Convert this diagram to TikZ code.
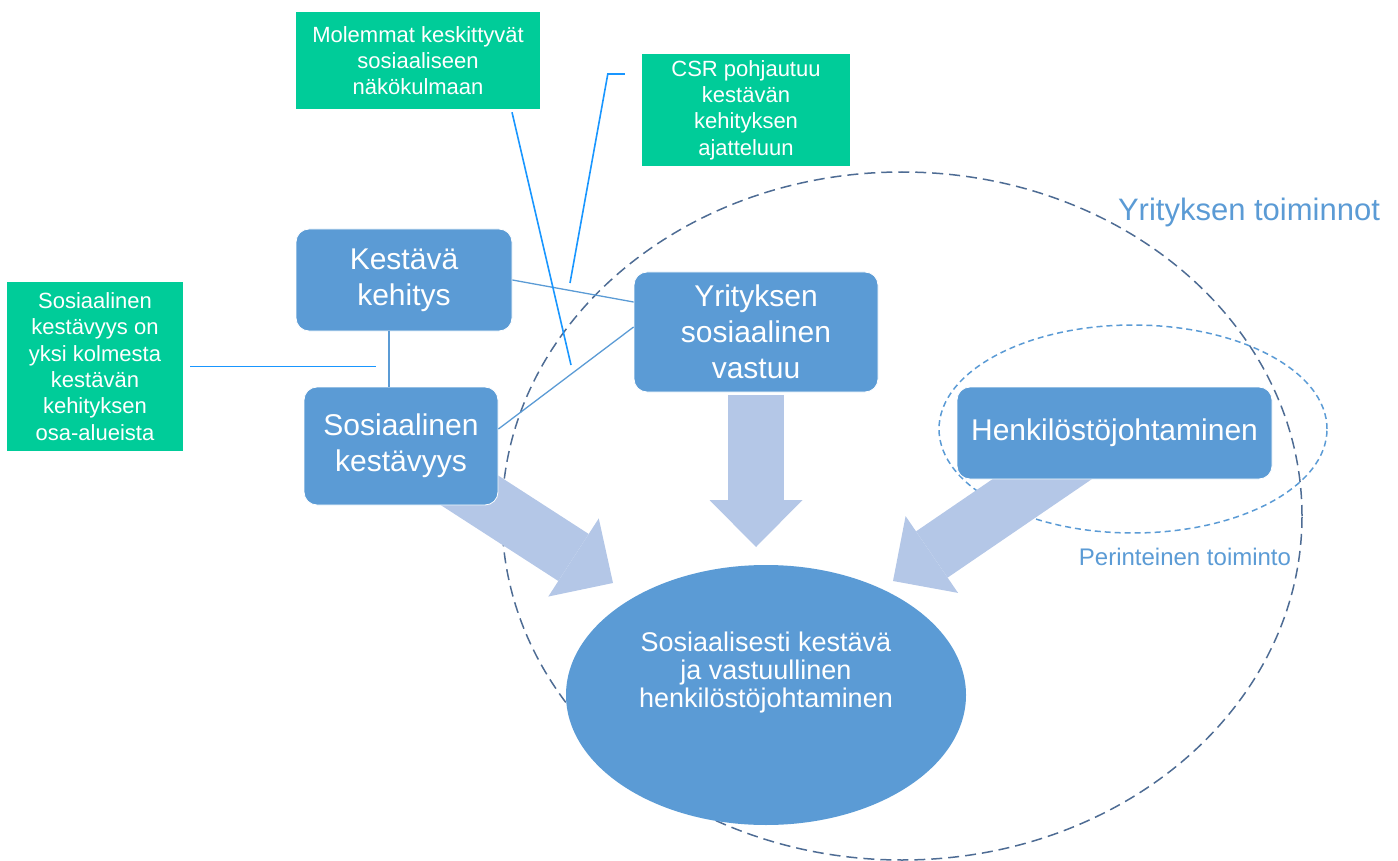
\documentclass[tikz,border=0pt]{standalone}
\usepackage{fontspec}
\setmainfont{Liberation Sans}
\usetikzlibrary{positioning,calc,arrows.meta,shapes.geometric}
\definecolor{boxblue}{RGB}{91,155,213}
\definecolor{arrowblue}{RGB}{180,199,231}
\definecolor{notegreen}{RGB}{0,204,153}
\definecolor{calloutblue}{RGB}{25,150,255}
\definecolor{rimgray}{RGB}{78,108,148}
\tikzset{
  bbox/.style     = {draw=white, line width=0.8pt, fill=boxblue, rounded corners=13pt,
                     text=white, align=center, inner sep=0pt,
                     font=\fontsize{30}{36}\selectfont},
  note/.style     = {fill=notegreen, text=white, align=center, inner sep=0pt,
                     font=\fontsize{22}{26.3}\selectfont},
  link/.style     = {draw=boxblue, line width=1.3pt},
  callout/.style  = {draw=calloutblue, line width=1.6pt},
  fat/.style      = {draw=arrowblue, line width=56pt,
                     -{Triangle[length=47pt 0,width=93pt 0,line width=0pt 0]}},
  rim/.style      = {ellipse, draw=rimgray, line width=1.5pt,
                     dash pattern=on 11pt off 6pt, inner sep=0pt},
  rimsmall/.style = {ellipse, draw=boxblue, line width=1.5pt,
                     dash pattern=on 6pt off 4pt, inner sep=0pt},
  zonelbl/.style  = {text=boxblue, inner sep=0pt},
}

\begin{document}
\begin{tikzpicture}[x=1pt,y=-1pt]
  \useasboundingbox (0,0) rectangle (1398,861);
  % zones
  \node[rim, minimum width=800pt, minimum height=688pt] (firm) at (902,516) {};
  \node[rimsmall, minimum width=388pt, minimum height=208pt] (trad) at (1133,429) {};
  \node[zonelbl, font=\fontsize{31}{36}\selectfont] (firmlbl) at (1249,212) {Yrityksen toiminnot};
  \node[zonelbl, font=\fontsize{24}{28}\selectfont] (tradlbl) at (1185,557) {Perinteinen toiminto};
  % big arrows
  \coordinate (a1s) at (452,479); \coordinate (a1e) at (613,583);
  \coordinate (a2s) at (756,395); \coordinate (a2e) at (756,547);
  \coordinate (a3s) at (1079,454); \coordinate (a3e) at (893,581);
  \draw[fat] (a1s) -- (a1e);
  \draw[fat] (a2s) -- (a2e);
  \draw[fat] (a3s) -- (a3e);
  % boxes
  \node[bbox, minimum width=216pt, minimum height=102pt] (kk) at (404,280) {Kestävä\\kehitys};
  \node[bbox, minimum width=194pt, minimum height=118pt] (sk) at (401,446) {Sosiaalinen\\kestävyys};
  \node[bbox, minimum width=244pt, minimum height=120pt] (ysv) at (756,332) {Yrityksen\\sosiaalinen\\vastuu};
  \node[bbox, minimum width=315pt, minimum height=92pt] (hj) at (1114.5,433) {Henkilöstöjohtaminen};
  \node[ellipse, fill=boxblue, minimum width=400pt, minimum height=260pt, inner sep=0pt] (res) at (766,695) {};
  \node[text=white, align=center, font=\fontsize{27}{28}\selectfont] (restxt) at (766,673)
    {Sosiaalisesti kestävä\\ja vastuullinen\\henkilöstöjohtaminen};
  % notes
  \node[note, minimum width=244pt, minimum height=97pt] (nboth) at (418,60.5)
    {Molemmat keskittyvät\\sosiaaliseen\\näkökulmaan};
  \node[note, minimum width=208pt, minimum height=112pt] (ncsr) at (746,110)
    {CSR pohjautuu\\kestävän\\kehityksen\\ajatteluun};
  \node[note, minimum width=176pt, minimum height=169pt] (nsoc) at (95,366.5)
    {Sosiaalinen\\kestävyys on\\yksi kolmesta\\kestävän\\kehityksen\\osa-alueista};
  % links
  \draw[link] (kk.east) -- ([yshift=30pt]ysv.west);
  \draw[link] ([yshift=17pt]sk.east) -- ([yshift=5pt]ysv.west);
  \draw[link] ([xshift=-15pt]kk.south) -- ([xshift=-12pt]sk.north);
  % callouts
  \coordinate (csoc) at (376,366.5);
  \coordinate (cboth) at (571,365);
  \coordinate (ccsr) at (570,283);
  \draw[callout, shorten <=7pt] (nsoc.east) -- (csoc);
  \draw[callout] ([xshift=94pt,yshift=-3pt]nboth.south) -- (cboth);
  \draw[callout] ([xshift=-17pt,yshift=36pt]ncsr.west) -- ++(-17,0) -- (ccsr);
\end{tikzpicture}
\end{document}
